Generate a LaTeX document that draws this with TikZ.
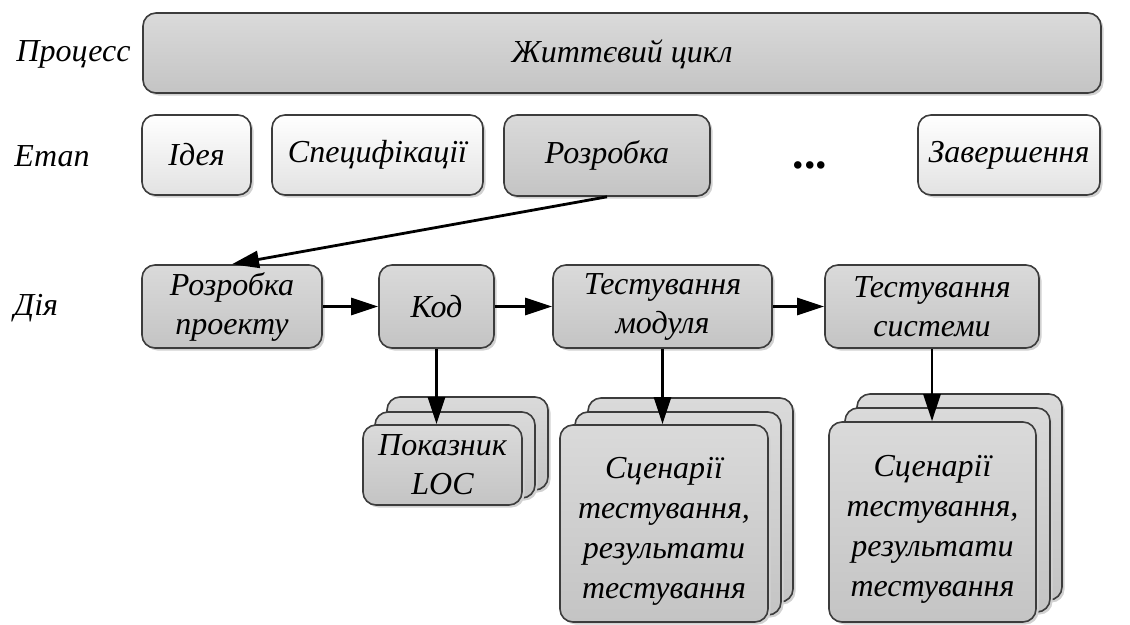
\documentclass[tikz,border=0pt]{standalone}
\usepackage{fontspec}
\setmainfont{Liberation Serif}
\usetikzlibrary{arrows.meta,shadows}
\definecolor{edge}{HTML}{3C3C3C}
\definecolor{grayTop}{HTML}{DADADA}
\definecolor{grayBot}{HTML}{C4C4C4}
\definecolor{lightBot}{HTML}{E2E2E2}
\newcommand{\topstrut}{\rule{0pt}{36pt}}
\tikzset{
  base/.style={draw=edge, line width=1.6pt, rounded corners=13pt,
    align=center, inner sep=0pt, font=\itshape\fontsize{32}{39}\selectfont,
    drop shadow={shadow xshift=2.5pt, shadow yshift=-2.5pt, fill=black!18, opacity=1}},
  graybox/.style={base, top color=grayTop, bottom color=grayBot},
  lightbox/.style={base, top color=white, bottom color=lightBot},
  rowlabel/.style={font=\itshape\fontsize{32}{38}\selectfont, inner sep=0pt},
  conn/.style={line width=2.8pt, -{Triangle[length=27pt,width=17pt]}}
}
\begin{document}
\begin{tikzpicture}[x=1pt,y=-1pt]
\useasboundingbox (0,0) rectangle (1130,624);

% row labels
\node[rowlabel] (lproc) at (73.5,54) {Процесс};
\node[rowlabel] (letap) at (52,156) {Етап};
\node[rowlabel] (ldiya) at (36,308) {Дія};

% process
\node[graybox, minimum width=958pt, minimum height=80pt] (life) at (622,53) {\rule{0pt}{26pt}Життєвий цикл};

% stages
\node[lightbox, minimum width=109pt, minimum height=80pt] (idea) at (196.5,155) {Ідея};
\node[lightbox, minimum width=211pt, minimum height=80pt] (spec) at (377.5,155) {Специфікації};
\node[graybox, minimum width=206pt, minimum height=81pt] (rozr) at (607,155.5) {Розробка};
\node[inner sep=0pt, anchor=base, font=\bfseries\fontsize{46}{50}\selectfont] (dots) at (810,168) {...};
\node[lightbox, minimum width=182pt, minimum height=80pt] (zav) at (1009,155) {Завершення};

% activities
\node[graybox, minimum width=180pt, minimum height=83pt] (proj) at (232,306.5) {Розробка\\проекту};
\node[graybox, minimum width=115pt, minimum height=83pt] (code) at (436.5,306.5) {Код};
\node[graybox, minimum width=219pt, minimum height=83pt] (tmod) at (662.5,306.5) {Тестування\\модуля};
\node[graybox, minimum width=214pt, minimum height=83pt] (tsys) at (932,306.5) {Тестування\\системи};

% artefact stacks
\node[graybox, minimum width=161pt, minimum height=93pt] (locB) at (467.5,443.5) {};
\node[graybox, minimum width=160pt, minimum height=86pt] (locM) at (455,455) {};
\node[graybox, minimum width=159pt, minimum height=80pt] (locF) at (442.5,465) {Показник\\LOC};

\node[graybox, minimum width=205pt, minimum height=204pt] (s1B) at (690.5,500) {};
\node[graybox, minimum width=206pt, minimum height=203pt] (s1M) at (678,513.5) {};
\node[graybox, minimum width=208pt, minimum height=197pt, font=\itshape\fontsize{32}{40}\selectfont] (s1F) at (664,523.5) {\topstrut Сценарії\\тестування,\\результати\\тестування};

\node[graybox, minimum width=205pt, minimum height=206pt] (s2B) at (959.5,497) {};
\node[graybox, minimum width=205pt, minimum height=204pt] (s2M) at (947.5,510) {};
\node[graybox, minimum width=207pt, minimum height=200pt, font=\itshape\fontsize{32}{40}\selectfont] (s2F) at (932.5,522) {\topstrut Сценарії\\тестування,\\результати\\тестування};

% connectors
\draw[conn] (rozr.south) -- (proj.north);
\draw[conn] (proj.east) -- (code.west);
\draw[conn] (code.east) -- (tmod.west);
\draw[conn] (tmod.east) -- (tsys.west);
\draw[conn] (code.south) -- (code.south |- locF.north);
\draw[conn] (tmod.south) -- (tmod.south |- s1F.north);
\draw[conn] (tsys.south) -- (tsys.south |- s2F.north);
\end{tikzpicture}
\end{document}
